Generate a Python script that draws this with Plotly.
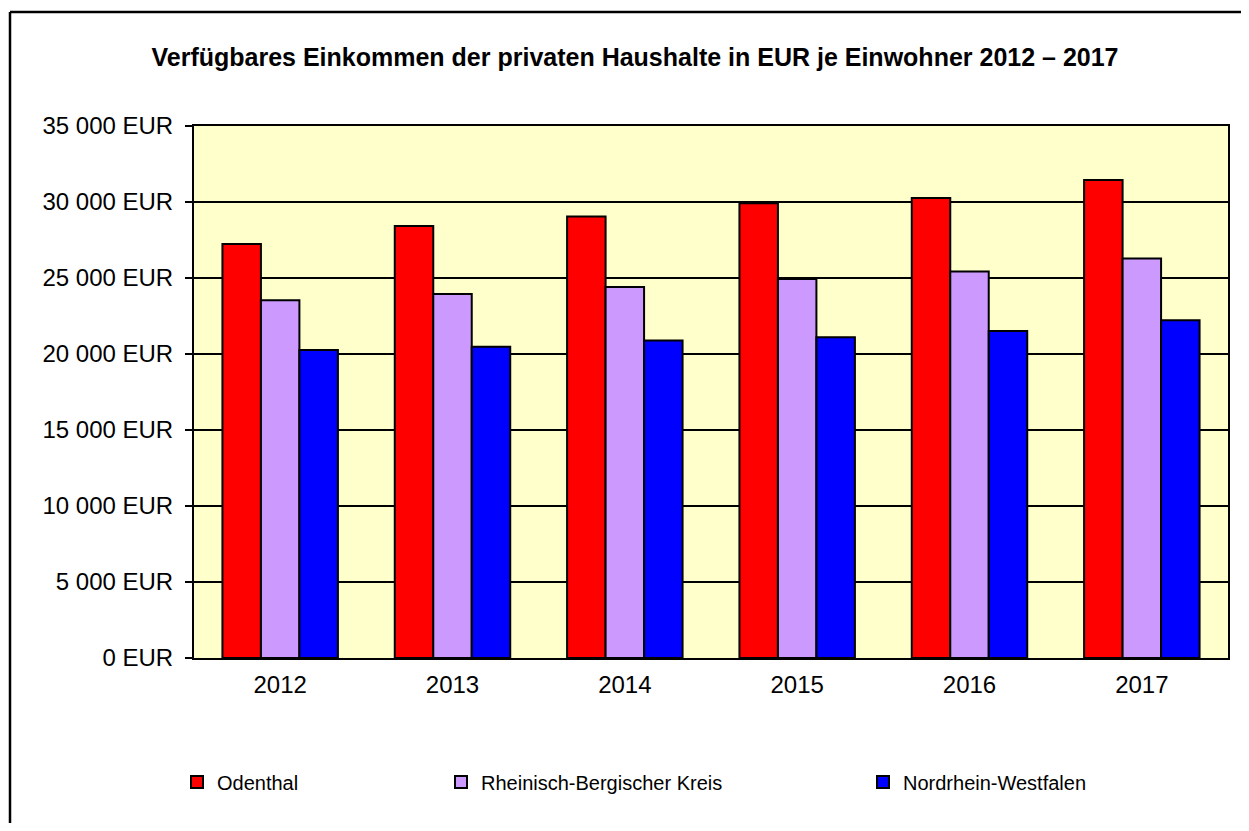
import plotly.graph_objects as go

years = ["2012", "2013", "2014", "2015", "2016", "2017"]
odenthal = [27240, 28420, 29050, 29910, 30260, 31450]
rbk = [23530, 23950, 24410, 24930, 25430, 26290]
nrw = [20260, 20480, 20880, 21100, 21510, 22220]

series_names = ["Odenthal", "Rheinisch-Bergischer Kreis", "Nordrhein-Westfalen"]
series_colors = ["#FF0000", "#CC99FF", "#0000FF"]

tick_values = [0, 5000, 10000, 15000, 20000, 25000, 30000, 35000]
tick_labels = ["0 EUR", "5 000 EUR", "10 000 EUR", "15 000 EUR", "20 000 EUR",
               "25 000 EUR", "30 000 EUR", "35 000 EUR"]

title_text = "Verfügbares Einkommen der privaten Haushalte in EUR je Einwohner 2012 – 2017"

# figure sits 8px inside the page (body margin)
OFF = 8
W, H = 1249 - OFF, 831 - 2 * OFF
L, R, T, B = 194 - OFF, 1228 - OFF, 126 - OFF, 658 - OFF
FONT = "Liberation Sans, Arial, sans-serif"

fig = go.Figure()
legend_ids = ["legend", "legend2", "legend3"]
for name, vals, col, lg in zip(series_names, [odenthal, rbk, nrw], series_colors, legend_ids):
    fig.add_trace(go.Bar(
        x=years, y=vals, name=name, legend=lg,
        marker=dict(color=col, line=dict(color="black", width=2)),
    ))

def px_x(p):
    return (p - OFF - L) / (R - L)

def px_y(p):
    return (B - (p - OFF)) / (B - T)

legend_common = dict(
    orientation="h", xref="container", yref="container",
    xanchor="left", yanchor="middle", y=1 - (782 - OFF) / H,
    font=dict(family=FONT, size=20, color="black"),
    bgcolor="rgba(0,0,0,0)", borderwidth=0,
)

frame_line = dict(color="black", width=2.5)

fig.update_layout(
    width=W, height=H,
    margin=dict(l=L, r=W - R, t=T, b=H - B, autoexpand=False),
    paper_bgcolor="white",
    plot_bgcolor="#FFFFCC",
    font=dict(family=FONT, color="black"),
    barmode="group", bargap=0.33, bargroupgap=0,
    title=dict(text="<b>" + title_text + "</b>", x=(635 - OFF) / W, xref="container", xanchor="center",
               y=1 - (57 - OFF) / H, yref="container", yanchor="middle",
               font=dict(family=FONT, size=25, color="black")),
    legend=dict(x=(177 - OFF) / W, **legend_common),
    legend2=dict(x=(441 - OFF) / W, **legend_common),
    legend3=dict(x=(863 - OFF) / W, **legend_common),
    xaxis=dict(
        showline=True, linecolor="black", linewidth=2, mirror=True,
        ticks="", tickfont=dict(family=FONT, size=24, color="black"),
        ticklabelstandoff=4, automargin=False,
        showgrid=False,
    ),
    yaxis=dict(
        range=[0, 35000], tickvals=tick_values, ticktext=tick_labels,
        showline=True, linecolor="black", linewidth=2, mirror=True,
        ticks="outside", ticklen=7, tickwidth=2, tickcolor="black",
        ticklabelstandoff=7, automargin=False,
        tickfont=dict(family=FONT, size=24, color="black"),
        showgrid=True, gridcolor="black", gridwidth=2,
        zeroline=False,
    ),
    shapes=[
        dict(type="line", xref="paper", yref="paper",
             x0=px_x(10), x1=px_x(1270), y0=px_y(12), y1=px_y(12),
             line=frame_line, layer="above"),
        dict(type="line", xref="paper", yref="paper",
             x0=px_x(10), x1=px_x(10), y0=px_y(12), y1=px_y(860),
             line=frame_line, layer="above"),
    ],
    showlegend=True,
)

fig.write_html("out.html")
